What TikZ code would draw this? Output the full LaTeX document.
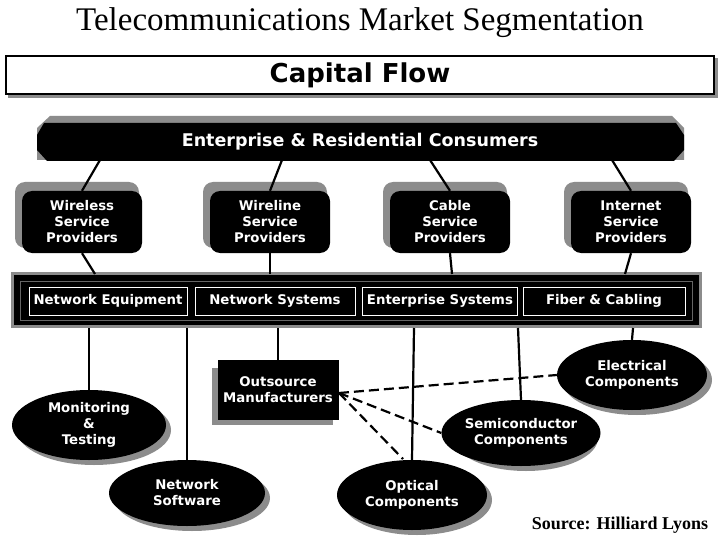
\documentclass[tikz,border=0pt]{standalone}
\usepackage{fontspec}
\setmainfont{Liberation Serif}
\newfontfamily\vb{DejaVu Sans Bold}
\usetikzlibrary{shapes.geometric}
\begin{document}
\begin{tikzpicture}[x=1pt,y=-1pt,
  wt/.style={text=white,font=\vb\fontsize{13.3}{16}\selectfont,align=center},
  prov/.style={wt,fill=black,rounded corners=10pt,minimum width=120pt,minimum height=62pt,inner sep=0pt},
  seg/.style={wt,draw=white,line width=0.8pt,minimum height=28pt,inner sep=0pt},
  ell/.style={wt,ellipse,fill=black,inner sep=0pt},
  ln/.style={line width=2.2pt},
  dl/.style={line width=2.2pt,dash pattern=on 10pt off 5pt},
  sh/.style={fill=black!45}]
\useasboundingbox (0,0) rectangle (720,540);
\fill[white] (0,0) rectangle (720,540);
\node (title) at (360,23) {\fontsize{33}{36}\selectfont Telecommunications Market Segmentation};
% capital flow
\fill[black!45] (8,58) rectangle (718,98);
\node[draw,line width=2.5pt,fill=white,minimum width=708pt,minimum height=38pt,inner sep=0pt,font=\vb\fontsize{26}{28}\selectfont] (cap) at (360,75) {Capital Flow};
% consumers
\fill[black!45] (50,116) -- (672,116) -- (684,128) -- (684,160) -- (37,160) -- (37,128) -- cycle;
\fill[black] (44,123) -- (676,123) -- (684,135) -- (684,150) -- (674,161) -- (47,161) -- (37,150) -- (37,135) -- cycle;
\node[wt,font=\vb\fontsize{17.5}{20}\selectfont,minimum width=640pt,minimum height=36pt] (cons) at (360,142) {Enterprise \& Residential Consumers};
% providers
\foreach \x in {82,270,450,631}{\fill[black!45,rounded corners=10pt] (\x-67,182) rectangle (\x+57,248);}
\node[prov] (p1) at (82,222) {Wireless\\Service\\Providers};
\node[prov] (p2) at (270,222) {Wireline\\Service\\Providers};
\node[prov] (p3) at (450,222) {Cable\\Service\\Providers};
\node[prov] (p4) at (631,222) {Internet\\Service\\Providers};
\draw[ln] (100,160) -- (p1.north);
\draw[ln] (282,160) -- (p2.north);
\draw[ln] (430,160) -- (p3.north);
\draw[ln] (612,160) -- (p4.north);
% bar
\node[fill=black,draw=black!45,line width=3pt,minimum width=688pt,minimum height=53pt,inner sep=0pt] (bar) at (356,300) {};
\draw[black!60,line width=0.8pt] (20,281) rectangle (692,320);
\node[seg,minimum width=158pt] (s1) at (108,301) {Network Equipment};
\node[seg,minimum width=160pt] (s2) at (275,301) {Network Systems};
\node[seg,minimum width=155pt] (s3) at (440,301) {Enterprise Systems};
\node[seg,minimum width=162pt] (s4) at (604,301) {Fiber \& Cabling};
\draw[ln] (p1.south) -- (95,274);
\draw[ln] (p2.south) -- (270,274);
\draw[ln] (p3.south) -- (452,274);
\draw[ln] (p4.south) -- (625,274);
% lower shapes: shadows
\fill[black!45] (212,368) rectangle (333,425);
\fill[black!45] (94,430) ellipse (77pt and 35pt);
\fill[black!45] (192,498) ellipse (78pt and 33pt);
\fill[black!45] (417,500) ellipse (75pt and 35pt);
\fill[black!45] (526,438) ellipse (72pt and 33pt);
\fill[black!45] (637,380) ellipse (75pt and 35pt);
\node[wt,fill=black,minimum width=121pt,minimum height=60pt,inner sep=0pt] (out) at (278,390) {Outsource\\Manufacturers};
\node[ell,minimum width=154pt,minimum height=70pt] (mon) at (89,425) {Monitoring\\\&\\Testing};
\node[ell,minimum width=156pt,minimum height=66pt] (nsw) at (187,493) {Network\\Software};
\node[ell,minimum width=150pt,minimum height=70pt] (opt) at (412,495) {Optical\\Components};
\node[ell,minimum width=144pt,minimum height=66pt] (semi) at (521,433) {Semiconductor\\Components};
\node[ell,minimum width=150pt,minimum height=70pt] (elec) at (632,375) {Electrical\\Components};
\draw[ln] (89,328) -- (mon.north);
\draw[ln] (187,328) -- (nsw.north);
\draw[ln] (278,328) -- (out.north);
\draw[ln] (414,328) -- (opt.north);
\draw[ln] (518,328) -- (semi.north);
\draw[ln] (633,328) -- (elec.north);
\coordinate (o) at (339,393);
\draw[dl] (o) -- (elec.west);
\draw[dl] (o) -- (semi.west);
\draw[dl] (o) -- (403,459);
\node[font=\bfseries\fontsize{18}{20}\selectfont] (src) at (620,525) {Source: Hilliard Lyons};
\end{tikzpicture}
\end{document}
